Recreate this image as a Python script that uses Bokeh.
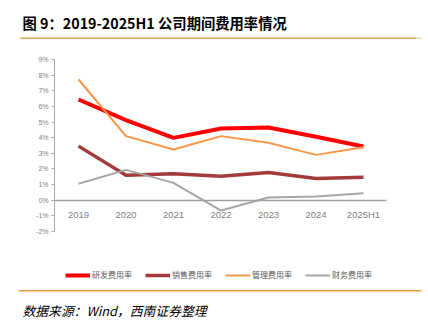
from bokeh.plotting import figure
from bokeh.models import Range1d, Label, BoxAnnotation, Legend, LegendItem, FixedTicker, CustomJSTickFormatter, LinearAxis
from bokeh.embed import file_html
from bokeh.resources import INLINE

years = ["2019", "2020", "2021", "2022", "2023", "2024", "2025H1"]
rd = [6.44, 5.12, 3.99, 4.59, 4.65, 4.06, 3.44]
sales = [3.46, 1.60, 1.69, 1.54, 1.77, 1.39, 1.47]
admin = [7.72, 4.10, 3.24, 4.10, 3.67, 2.90, 3.39]
finance = [1.05, 1.94, 1.11, -0.66, 0.17, 0.24, 0.45]
yticks = list(range(-2, 10))
names = ["研发费用率", "销售费用率", "管理费用率", "财务费用率"]
colors = ["#FF0000", "#A33B3B", "#F79646", "#A6A6A6"]
widths = [4, 3.5, 2, 2]

W, H = 428, 322
# pixel geometry of the plotting area inside the canvas
X0, DX = 78.0, 47.5          # first category centre, category spacing
Y_TOP, Y_BOT = 59.0, 231.0   # pixel rows of 9% and -2%
ppu = (Y_BOT - Y_TOP) / 11.0
y_start = -2 - (H - Y_BOT) / ppu
y_end = 9 + Y_TOP / ppu
x_start = -X0 / DX
x_end = (len(years) - 1) + (W - (X0 + DX * (len(years) - 1))) / DX

xs = list(range(len(years)))

p = figure(width=W, height=H, x_range=Range1d(x_start, x_end), y_range=Range1d(y_start, y_end),
           output_backend="svg", toolbar_location=None, x_axis_type=None, y_axis_type=None,
           min_border=0, min_border_left=0, min_border_right=0, min_border_top=0, min_border_bottom=0)
p.outline_line_color = None
p.grid.visible = False
p.background_fill_color = "white"
p.border_fill_color = "white"

renderers = []
for vals, c, w in zip([rd, sales, admin, finance], colors, widths):
    r = p.line(xs, vals, line_color=c, line_width=w, line_join="round")
    renderers.append(r)

yaxis_x = (54 - X0) / DX
xaxis_end = (386 - X0) / DX

xaxis = LinearAxis(fixed_location=0, bounds=(yaxis_x, xaxis_end),
                   ticker=FixedTicker(ticks=xs),
                   major_label_overrides={i: y for i, y in enumerate(years)})
xaxis.axis_line_color = "#A0A0A0"
xaxis.axis_line_width = 1.5
xaxis.major_tick_line_color = None
xaxis.major_tick_out = 0
xaxis.major_tick_in = 0
xaxis.minor_tick_line_color = None
xaxis.major_label_text_color = "#7F7F7F"
xaxis.major_label_text_font = "Liberation Sans"
xaxis.major_label_text_font_size = "9.5px"
xaxis.major_label_standoff = 9
p.add_layout(xaxis, "below")

yaxis = LinearAxis(fixed_location=yaxis_x, bounds=(-2, 9),
                   ticker=FixedTicker(ticks=yticks),
                   formatter=CustomJSTickFormatter(code="return tick + '%';"))
yaxis.axis_line_color = "#A6A6A6"
yaxis.major_tick_line_color = "#A6A6A6"
yaxis.major_tick_in = 0
yaxis.major_tick_out = 3
yaxis.minor_tick_line_color = None
yaxis.major_label_text_color = "#7F7F7F"
yaxis.major_label_text_font = "Liberation Sans"
yaxis.major_label_text_font_size = "7px"
yaxis.major_label_standoff = 3
p.add_layout(yaxis, "left")

legend = Legend(items=[LegendItem(label=n, renderers=[r]) for n, r in zip(names, renderers)],
                orientation="horizontal", location=(65, 42),
                label_text_font="Noto Sans CJK SC", label_text_font_size="8px",
                label_text_color="#595959", glyph_width=25, glyph_height=8,
                spacing=13, label_standoff=2, padding=0, margin=0,
                background_fill_alpha=0, border_line_color=None)
p.add_layout(legend, "center")

title = Label(x=22, y=H - 22, x_units="screen", y_units="screen",
              text="图 9：2019-2025H1 公司期间费用率情况",
              text_font="Noto Sans CJK SC", text_font_style="bold",
              text_font_size="14.3px", text_color="#000000", text_baseline="alphabetic")
p.add_layout(title)

source = Label(x=22, y=H - 310, x_units="screen", y_units="screen",
               text="数据来源：Wind，西南证券整理",
               text_font="Noto Sans CJK SC", text_font_style="italic",
               text_font_size="12.8px", text_color="#000000", text_baseline="alphabetic")
p.add_layout(source)

top_line = BoxAnnotation(left=20, right=416, top=H - 37, bottom=H - 38.5, left_units="screen",
                         right_units="screen", top_units="screen", bottom_units="screen",
                         fill_color="#D6A461", fill_alpha=1, line_color=None)
top_end = BoxAnnotation(left=416, right=421, top=H - 37, bottom=H - 38.5, left_units="screen",
                        right_units="screen", top_units="screen", bottom_units="screen",
                        fill_color="#E8D2B4", fill_alpha=1, line_color=None)
bot_line = BoxAnnotation(left=18, right=421, top=H - 289.5, bottom=H - 291, left_units="screen",
                         right_units="screen", top_units="screen", bottom_units="screen",
                         fill_color="#E69A3C", fill_alpha=1, line_color=None)
p.add_layout(top_line)
p.add_layout(top_end)
p.add_layout(bot_line)

open("out.html", "w").write(file_html(p, INLINE))
